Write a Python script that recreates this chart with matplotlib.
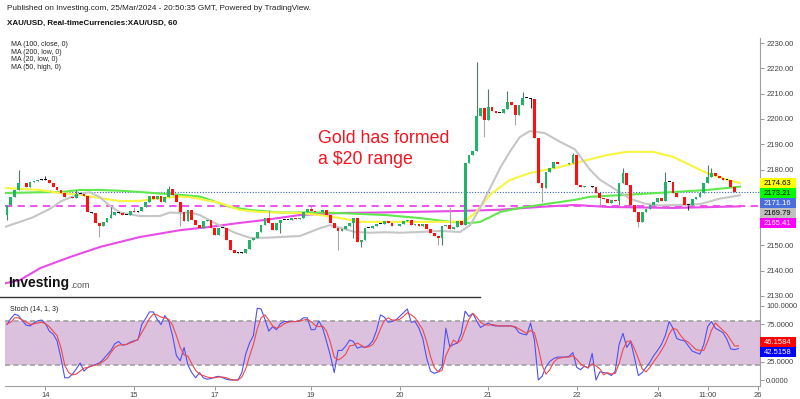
import matplotlib.pyplot as plt
from matplotlib.patches import Rectangle

plt.rcParams['font.family'] = ['Liberation Sans', 'DejaVu Sans']

# hourly closes XAU/USD, bar index 0 = Mar 13 ~14:00
closes = [2166, 2169, 2172, 2174.5, 2174.7, 2173, 2175, 2175.5, 2176, 2176.3,
          2176, 2174.7, 2173, 2172, 2170.7, 2169, 2169.3, 2168.8, 2170.5, 2170.3,
          2169.5, 2163, 2162.8, 2159, 2157.7, 2159.2, 2160.8, 2162, 2163, 2162.8,
          2162, 2162.2, 2163.6, 2163.2, 2163.5, 2165, 2167, 2169.5, 2168.5, 2169.5,
          2167, 2169, 2172.3, 2170, 2167, 2163, 2159.5, 2164, 2160, 2158,
          2157, 2159.5, 2160, 2157, 2154, 2157, 2156.8, 2152, 2148, 2147,
          2147.2, 2147, 2148.5, 2152, 2153, 2155.4, 2158, 2160.8, 2159, 2156,
          2159, 2160, 2160.2, 2160, 2160.8, 2160.3, 2161, 2163, 2164.4, 2163.5,
          2163, 2163.3, 2164, 2162, 2159, 2157, 2155.5, 2156.5, 2157.5, 2159,
          2161, 2151.5, 2152, 2157, 2157, 2157.5, 2158.5, 2158.5, 2159.5, 2159,
          2157.5, 2157.8, 2158.5, 2159.5, 2160, 2158, 2158.5, 2157.5, 2158.5, 2156.5,
          2154.8, 2153.6, 2152.8, 2157.5, 2158, 2156.5, 2157.3, 2159.5, 2158, 2182.6,
          2185.7, 2187.5, 2201, 2204.5, 2199.5, 2204.7, 2203, 2202.5, 2202.5, 2204,
          2206.7, 2205.5, 2201.6, 2205.5, 2208.3, 2208.3, 2208, 2192.5, 2174.7, 2172.5,
          2179, 2180.6, 2183, 2182, 2182, 2182, 2182.5, 2185.7, 2174, 2173,
          2173.5, 2173.3, 2173, 2170.7, 2168.7, 2168.3, 2166.8, 2168, 2167.5, 2174.7,
          2178.6, 2174, 2166, 2163, 2159.3, 2163, 2164.4, 2166, 2167, 2168.7,
          2167.5, 2175, 2175, 2170.7, 2169, 2169.3, 2166, 2166, 2168.5, 2169,
          2170.7, 2174.7, 2177, 2178.5, 2177.5, 2176.8, 2176, 2175.8, 2173, 2171,
          2171.16]
first_open = 2162

# visible wick extremes
hi_idx = [3, 10, 18, 27, 33, 42, 68, 79, 115, 122, 125, 130, 134, 147, 160, 171, 182, 183]
hi_val = [2180, 2177.4, 2171.9, 2165.3, 2165.3, 2173.5, 2164, 2165.5, 2165.3, 2222.5,
          2212, 2211, 2210.5, 2186.5, 2180.6, 2179, 2181.8, 2180.5]
lo_idx = [0, 24, 45, 71, 86, 90, 92, 112, 113, 124, 132, 136, 139, 154, 159, 164, 177]
lo_val = [2160, 2153.2, 2157.5, 2155, 2148.2, 2153, 2149.3, 2150.2, 2150, 2193,
          2197.6, 2204.3, 2167.3, 2166, 2166, 2157.4, 2164]

# moving averages (bar index, value)
ma20_idx = [-0.5, 6.6, 11.2, 14.1, 19, 21.6, 24.2, 26.8, 29.4, 34.5, 39.7, 42.3, 44.9,
            47.5, 50.1, 54, 59.2, 63.1, 67, 70.9, 76.1, 81.3, 83.9, 86.5, 90.4, 94.3,
            98.2, 102.1, 107.3, 112.5, 117.7, 120.3, 122.9, 125.5, 128.1, 130.6, 133.2,
            135.8, 139.7, 143.6, 147.5, 151.4, 154, 156.6, 159.2, 161.8, 165.7, 169.6,
            174.8, 180, 185.2, 190.4]
ma20_val = [2157.3, 2161, 2164.5, 2167.5, 2170.5, 2171, 2169, 2165.5, 2163, 2161.6,
            2161.6, 2163, 2162.8, 2163, 2162, 2158.8, 2155, 2153, 2153, 2153.3, 2153.7,
            2156.8, 2158, 2157, 2155.3, 2155, 2155.2, 2155, 2155.3, 2155.7, 2155.3,
            2158, 2164.8, 2172.7, 2180.6, 2187, 2192.8, 2195.2, 2194.4, 2191, 2188,
            2180, 2176, 2173.5, 2171, 2168.5, 2166.5, 2165.8, 2166, 2166.3, 2168.5,
            2169.79]
ma50_idx = [-0.5, 8.6, 13.8, 19, 24.2, 29.4, 34.5, 39.7, 44.9, 47.5, 55.3, 60.5, 65.7,
            76.1, 81.3, 86.5, 91.7, 96.9, 107.3, 115.1, 119, 121.6, 125.5, 128.1, 130.6,
            135.8, 143.6, 147.5, 155.8, 161, 167.8, 173, 181.8, 187, 190.4]
ma50_val = [2172.7, 2171.9, 2170.7, 2170, 2168.7, 2167.5, 2167.6, 2168.7, 2169.3, 2169.1,
            2166.8, 2164, 2163.2, 2162.8, 2162, 2160.8, 2159.3, 2159.3, 2159.3, 2159.3,
            2159.6, 2162.8, 2170, 2173, 2175.8, 2178.6, 2181, 2182.5, 2185.7, 2187, 2187,
            2185, 2178.6, 2176, 2174.63]
ma100_idx = [-0.5, 8.6, 13.8, 19, 24.2, 29.4, 34.5, 39.7, 44.9, 50.1, 52.7, 57.9, 63.1,
             70.9, 81.3, 89.1, 98.2, 107.3, 115.1, 120.3, 122.9, 125.5, 128.1, 133.2,
             138.4, 147.5, 151.4, 164.4, 181.8, 190.4]
ma100_val = [2170.7, 2171, 2171.1, 2171.9, 2171.9, 2171.6, 2171.1, 2170.5, 2170, 2169.3,
             2168, 2165.2, 2164, 2163, 2163, 2162.6, 2162, 2160.8, 2159.3, 2158.8, 2159.3,
             2161.2, 2163.2, 2164.8, 2166, 2168, 2169.2, 2170.3, 2171.9, 2173.21]
ma200_idx = [-0.5, 3.4, 8.6, 16.4, 24.2, 34.5, 44.9, 52.7, 60.5, 65.7, 76.1, 86.5, 96.9,
             107.3, 117.7, 128.1, 138.4, 147.5, 155.8, 173, 190.4]
ma200_val = [2135, 2136.3, 2141, 2145.4, 2149.4, 2153.3, 2156, 2157.3, 2158.9, 2159.8,
             2162, 2162.8, 2163, 2163.3, 2163.6, 2164.1, 2165.2, 2166, 2165.2, 2164.8,
             2165.41]

# stochastic (14, 1, 3)
stoch_k = [75, 83, 89, 87, 80, 74, 73, 77, 80, 81, 76, 66, 62, 53, 30, 3, 3, 8, 15, 23,
           12, 17, 19, 21, 23, 28, 34, 40, 49, 52, 47, 48, 51, 53, 54, 75, 83, 92, 92, 82,
           75, 87, 80, 60, 33, 26, 44, 20, 10, 3, 10, 3, 1, 2, 4, 5, 3, 1, 0, 0,
           0, 10, 35, 50, 60, 97, 96, 82, 66, 72, 68, 76, 79, 79, 79, 79, 80, 84, 84, 68,
           68, 80, 70, 52, 33, 10, 40, 40, 46, 54, 52, 43, 45, 44, 47, 53, 67, 88, 85, 78,
           79, 81, 86, 91, 96, 78, 79, 70, 56, 30, 12, 9, 11, 18, 70, 45, 48, 50, 63, 93,
           86, 90, 80, 71, 74, 77, 74, 73, 73, 73, 73, 73, 71, 64, 62, 61, 77, 54, 0, 5,
           18, 25, 29, 31, 31, 31, 32, 37, 17, 14, 19, 16, 36, 0, 11, 10, 9, 6, 12, 48,
           63, 44, 52, 30, 6, 10, 17, 24, 33, 40, 48, 60, 79, 70, 56, 54, 53, 46, 39, 37,
           35, 48, 72, 79, 70, 67, 64, 55, 42, 41, 42.5158]
stoch_d = [76, 78, 84, 84, 81, 78, 75, 76, 77, 78, 76, 72, 66, 60, 44, 20, 10, 7, 8, 12,
           16, 17, 19, 20, 22, 25, 29, 37, 44, 47, 48, 48, 50, 52, 55, 64, 73, 83, 89, 88,
           85, 84, 82, 74, 60, 44, 34, 32, 22, 13, 8, 6, 4, 3, 3, 4, 4, 3, 1, 0,
           0, 4, 15, 32, 48, 69, 84, 88, 81, 73, 70, 72, 76, 78, 79, 79, 80, 81, 82, 79,
           74, 72, 73, 66, 51, 31, 27, 30, 35, 46, 47, 50, 47, 44, 45, 48, 56, 69, 80, 84,
           81, 81, 82, 86, 91, 88, 84, 76, 68, 52, 32, 17, 11, 13, 33, 44, 54, 50, 54, 68,
           82, 90, 85, 78, 75, 74, 75, 74, 73, 73, 73, 73, 72, 69, 66, 63, 67, 64, 44, 20,
           8, 14, 24, 29, 30, 31, 31, 33, 28, 22, 18, 17, 22, 19, 15, 7, 10, 8, 9, 22,
           41, 52, 53, 42, 29, 15, 11, 17, 25, 32, 40, 49, 62, 70, 68, 60, 54, 51, 46, 41,
           40, 40, 52, 67, 77, 72, 67, 62, 54, 46, 46.1584]

day_ticks = [10, 33, 54, 79, 102, 125, 148, 169, 182, 195]
day_labels = ['14', '15', '17', '19', '20', '21', '22', '24', '11:00', '26']
# 2160 / 2170 and 50 sit under the value badges, so they are not labelled
price_ticks = [2130, 2140, 2150, 2180, 2190, 2200, 2210, 2220, 2230]
stoch_ticks = [0, 25, 75, 100]

GREEN = '#22b36b'
RED = '#ff1010'

fig = plt.figure(figsize=(8, 3.99), dpi=100)
ax = fig.add_axes([5 / 800, 99 / 399, 755 / 800, 262 / 399])
ax2 = fig.add_axes([5 / 800, 13 / 399, 755 / 800, 86 / 399])

# ---- candles
opens = [first_open] + closes[:-1]
highs = [max(o, c) for o, c in zip(opens, closes)]
lows = [min(o, c) for o, c in zip(opens, closes)]
for i, v in zip(hi_idx, hi_val):
    highs[i] = v
for i, v in zip(lo_idx, lo_val):
    lows[i] = v

xs = list(range(len(closes)))
bottoms, heights, colors, wcols = [], [], [], []
for o, c in zip(opens, closes):
    if abs(c - o) < 0.35:
        colors.append('#111111')
        wcols.append('#333333')
    elif c > o:
        colors.append(GREEN)
        wcols.append('#4f7a63')
    else:
        colors.append(RED)
        wcols.append('#a8a8a8')
    bottoms.append(min(o, c))
    heights.append(max(abs(c - o), 0.3))

# moving averages
ax.plot(ma200_idx, ma200_val, color='#e84ce8', lw=1.5, zorder=2)
ax.plot(ma100_idx, ma100_val, color='#5fe84c', lw=1.5, zorder=2)
ax.plot(ma50_idx, ma50_val, color='#f8f540', lw=1.5, zorder=2)
ax.plot(ma20_idx, ma20_val, color='#c6c6c6', lw=1.5, zorder=2)

ax.axhline(ma200_val[-1], color='#ee44ee', lw=1.3, ls=(0, (4, 3)), zorder=1)
ax.axhline(closes[-1], color='#3a5fcd', lw=0.8, ls=(0, (1, 1.5)), zorder=1)

ax.vlines(xs, lows, highs, colors=wcols, lw=0.8, zorder=3)
ax.bar(xs, heights, bottom=bottoms, width=0.72, color=colors, lw=0, zorder=4)

ax.set_xlim(-0.52, 195.6)
ax.set_ylim(2128.4, 2232.0)
ax.set_xticks([])
ax.yaxis.tick_right()
ax.set_yticks(price_ticks)
ax.set_yticklabels(['%.2f' % p for p in price_ticks])
ax.tick_params(axis='y', length=3, width=0.6, color='#888888', labelsize=5.5,
               labelcolor='#444444', pad=1.5)
for s in ['top', 'left', 'bottom']:
    ax.spines[s].set_visible(False)
ax.spines['right'].set_color('#a0a0a0')

# ---- stochastic panel
ax2.axhspan(20, 80, color='#dcc1df', lw=0, zorder=0)
ax2.axhline(80, color='#a0a0a0', lw=1.2, ls=(0, (3, 2)), zorder=1)
ax2.axhline(20, color='#a0a0a0', lw=1.2, ls=(0, (3, 2)), zorder=1)
ax2.plot(xs, stoch_k, color='#5050f0', lw=0.8, zorder=3)
ax2.plot(xs, stoch_d, color='#f04848', lw=0.8, zorder=3)
ax2.set_xlim(-0.52, 195.6)
ax2.set_ylim(-8.1, 108.1)
ax2.yaxis.tick_right()
ax2.set_yticks(stoch_ticks)
ax2.set_yticklabels(['%.4f' % v for v in stoch_ticks])
ax2.set_xticks(day_ticks)
ax2.set_xticklabels(day_labels)
ax2.tick_params(axis='y', length=3, width=0.6, color='#888888', labelsize=5.5,
                labelcolor='#444444', pad=1.5)
ax2.tick_params(axis='x', length=3, width=0.6, color='#888888', labelsize=5.5,
                labelcolor='#444444', pad=1.5)
for s in ['top', 'left']:
    ax2.spines[s].set_visible(False)
ax2.spines['right'].set_color('#a0a0a0')
ax2.spines['bottom'].set_color('#a0a0a0')
ax2.text(0.007, 0.93, 'Stoch (14, 1, 3)', transform=ax2.transAxes, fontsize=5,
         va='top', color='#222222')


# ---- value badges on the right scale
def badges(axis, items, fmt, center=False):
    H = fig.bbox.height
    ideal = [H - axis.transData.transform((0, v))[1] for v, _, _ in items]
    order = sorted(range(len(items)), key=lambda k: ideal[k])
    pos = {}
    prev = None
    for k in order:
        y = ideal[k] if prev is None else max(ideal[k], prev + 10)
        pos[k] = y
        prev = y
    if center:
        shift = sum(ideal) / len(ideal) - sum(pos.values()) / len(pos)
        for k in pos:
            pos[k] += shift
    for k, (v, bg, fg) in enumerate(items):
        yc = pos[k]
        fig.patches.append(Rectangle((760 / 800, (399 - yc - 5) / 399), 36 / 800, 10 / 399,
                                     transform=fig.transFigure, facecolor=bg,
                                     edgecolor='none', zorder=5))
        fig.text(764 / 800, (399 - yc) / 399, fmt % v, fontsize=5.5, color=fg,
                 va='center', ha='left', zorder=6)


badges(ax, [(ma50_val[-1], '#ffff00', 'black'),
            (ma100_val[-1], '#00ff00', 'black'),
            (closes[-1], '#4a6fdc', 'white'),
            (ma20_val[-1], '#c0c0c0', 'black'),
            (ma200_val[-1], '#ff00ff', 'white')], '%.2f')
badges(ax2, [(stoch_d[-1], '#ff0000', 'white'),
             (stoch_k[-1], '#0000ff', 'white')], '%.4f', center=True)

# ---- texts
fig.text(7 / 800, 1 - 8 / 399,
         'Published on Investing.com, 25/Mar/2024 - 20:50:35 GMT, Powered by TradingView.',
         fontsize=5.9, va='center', color='#222222')
fig.text(7 / 800, 1 - 23 / 399, 'XAU/USD, Real-timeCurrencies:XAU/USD, 60',
         fontsize=5.8, va='center', fontweight='bold', color='#111111')
for k, t in enumerate(['MA (100, close, 0)', 'MA (200, low, 0)', 'MA (20, low, 0)',
                       'MA (50, high, 0)']):
    fig.text(11 / 800, 1 - (45 + 7.4 * k) / 399, t, fontsize=5, va='center',
             color='#222222')

fig.text(318 / 800, 1 - 130 / 399, 'Gold has formed\na $20 range', fontsize=12.8,
         color='#f2141e', va='top', linespacing=1.3)

fig.text(8 / 800, 1 - 283 / 399, 'Investing', fontsize=10, fontweight='bold',
         color='#111111', va='center')
fig.text(70 / 800, 1 - 285 / 399, '.com', fontsize=6.5, color='#555555', va='center')
fig.add_artist(plt.Line2D([0, 480 / 800], [1 - 297 / 399] * 2, color='#333333', lw=1,
                          transform=fig.transFigure))

fig.savefig('out.png', dpi=100)
